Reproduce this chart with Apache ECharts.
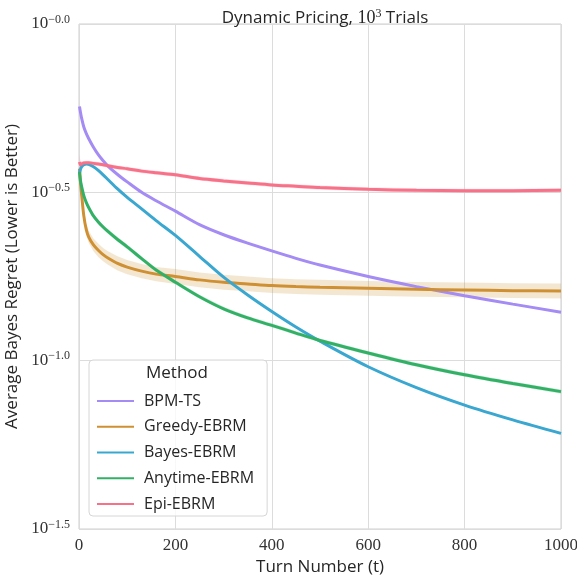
<!DOCTYPE html>
<html><head><meta charset="utf-8">
<script src="https://cdn.jsdelivr.net/npm/echarts@6/dist/echarts.min.js"></script>
<style>html,body{margin:0;padding:0;background:#fff}#c{width:577px;height:579px}</style>
</head><body><div id="c"></div>
<script>
// Turn numbers at which values were read
const turns = [1,3,5,10,15,20,30,40,50,60,80,100,130,160,200,250,300,350,400,450,500,600,700,800,900,1000];
// log10(average Bayes regret)
const bpmTS   = [-0.245,-0.262,-0.277,-0.306,-0.325,-0.340,-0.366,-0.388,-0.406,-0.422,-0.447,-0.469,-0.500,-0.525,-0.556,-0.596,-0.626,-0.651,-0.674,-0.696,-0.716,-0.750,-0.780,-0.807,-0.832,-0.856];
const greedy  = [-0.430,-0.470,-0.500,-0.570,-0.610,-0.632,-0.656,-0.672,-0.685,-0.695,-0.711,-0.722,-0.734,-0.743,-0.750,-0.760,-0.767,-0.772,-0.777,-0.780,-0.782,-0.785,-0.788,-0.790,-0.792,-0.793];
const bayes   = [-0.445,-0.432,-0.425,-0.418,-0.416,-0.417,-0.424,-0.435,-0.448,-0.462,-0.490,-0.515,-0.549,-0.584,-0.628,-0.690,-0.752,-0.805,-0.854,-0.900,-0.942,-1.018,-1.080,-1.132,-1.176,-1.216];
const anytime = [-0.440,-0.465,-0.480,-0.510,-0.530,-0.545,-0.570,-0.588,-0.603,-0.616,-0.640,-0.662,-0.697,-0.731,-0.767,-0.810,-0.846,-0.873,-0.895,-0.918,-0.940,-0.977,-1.012,-1.042,-1.068,-1.092];
const epi     = [-0.410,-0.418,-0.416,-0.413,-0.412,-0.412,-0.414,-0.416,-0.418,-0.421,-0.426,-0.430,-0.437,-0.442,-0.448,-0.459,-0.466,-0.472,-0.478,-0.482,-0.486,-0.491,-0.494,-0.495,-0.495,-0.494];
// half-width of confidence bands (log10 units)
const bpmBand     = [0.004,0.004,0.003,0.003,0.003,0.003,0.003,0.003,0.003,0.003,0.003,0.003,0.003,0.003,0.003,0.003,0.003,0.003,0.003,0.003,0.003,0.003,0.003,0.003,0.003,0.003];
const greedyBand  = [0.010,0.012,0.014,0.016,0.017,0.018,0.019,0.020,0.020,0.020,0.021,0.021,0.021,0.021,0.022,0.022,0.022,0.022,0.022,0.022,0.022,0.022,0.022,0.022,0.022,0.022];
const bayesBand   = [0.004,0.004,0.004,0.003,0.003,0.003,0.003,0.003,0.003,0.003,0.003,0.003,0.003,0.003,0.003,0.003,0.003,0.003,0.003,0.003,0.003,0.003,0.003,0.003,0.003,0.003];
const anytimeBand = [0.008,0.008,0.008,0.007,0.007,0.007,0.007,0.007,0.007,0.007,0.007,0.007,0.006,0.006,0.006,0.006,0.006,0.006,0.006,0.006,0.006,0.006,0.006,0.006,0.006,0.006];
const epiBand     = [0.022,0.012,0.008,0.006,0.006,0.006,0.006,0.006,0.006,0.006,0.006,0.006,0.006,0.006,0.006,0.006,0.006,0.006,0.006,0.006,0.006,0.006,0.006,0.006,0.006,0.006];

const names  = ['BPM-TS','Greedy-EBRM','Bayes-EBRM','Anytime-EBRM','Epi-EBRM'];
const colors = ['#a48cf4','#ce9032','#39a7d0','#32b166','#f77189'];
const means  = [bpmTS, greedy, bayes, anytime, epi];
const bands  = [bpmBand, greedyBand, bayesBand, anytimeBand, epiBand];

const toVal = e => Math.pow(10, e);
const SANS = '"Open Sans", "DejaVu Sans", sans-serif';
const SERIF = '"Liberation Serif", "DejaVu Serif", serif';

function hexA(h, a){
  const r=parseInt(h.slice(1,3),16), g=parseInt(h.slice(3,5),16), b=parseInt(h.slice(5,7),16);
  return `rgba(${r},${g},${b},${a})`;
}

const series = [];
means.forEach((m, k) => {
  const band = bands[k];
  series.push({
    type: 'custom', silent: true, clip: true, z: 1,
    data: [[turns[0], toVal(m[0])]],
    renderItem: (params, api) => {
      const pts = [];
      for (let i = 0; i < turns.length; i++) pts.push(api.coord([turns[i], toVal(m[i] + band[i])]));
      for (let i = turns.length - 1; i >= 0; i--) pts.push(api.coord([turns[i], toVal(m[i] - band[i])]));
      return { type: 'polygon', shape: { points: pts, smooth: 0 }, style: { fill: hexA(colors[k], 0.22), stroke: null } };
    }
  });
});
means.forEach((m, k) => {
  series.push({
    name: names[k], type: 'line', symbol: 'none', smooth: 0.3, z: 3,
    data: turns.map((t, i) => [t, toVal(m[i])]),
    lineStyle: { color: colors[k], width: 3 },
    itemStyle: { color: colors[k] }
  });
});

const chart = echarts.init(document.getElementById('c'), null, { renderer: 'canvas' });
chart.setOption({
  animation: false,
  backgroundColor: '#fff',
  title: {
    text: '{s|Dynamic Pricing, }{m|10}{sup|3}{s| Trials}',
    left: 320, top: 3, textAlign: 'center',
    textStyle: {
      fontWeight: 'normal',
      rich: {
        s: { fontFamily: SANS, fontSize: 17, fontWeight: 'normal', color: '#262626' },
        m: { fontFamily: SERIF, fontSize: 18, fontWeight: 'normal', color: '#262626' },
        sup: { fontFamily: SERIF, fontSize: 12, fontWeight: 'normal', color: '#262626', padding: [0,0,9,0] }
      }
    }
  },
  grid: { left: 79, right: 16, top: 24, bottom: 50, show: true, borderColor: '#cfcfcf', borderWidth: 1, containLabel: false, outerBoundsMode: 'none' },
  xAxis: {
    type: 'value', min: 0, max: 1000, interval: 200,
    name: 'Turn Number (t)', nameLocation: 'middle', nameGap: 28,
    nameTextStyle: { fontFamily: SANS, fontSize: 17, color: '#262626' },
    axisLine: { show: false }, axisTick: { show: false },
    axisLabel: { fontFamily: SERIF, fontSize: 17, color: '#333', margin: 8, formatter: v => String(v) },
    splitLine: { show: true, lineStyle: { color: '#dcdcdc', width: 1 } }
  },
  yAxis: {
    type: 'log', logBase: 10, min: Math.pow(10, -1.5), max: 1, interval: 0.5,
    name: 'Average Bayes Regret (Lower is Better)', nameLocation: 'middle', nameGap: 55,
    nameTextStyle: { fontFamily: SANS, fontSize: 17, color: '#262626' },
    axisLine: { show: false }, axisTick: { show: false },
    axisLabel: {
      margin: 9,
      formatter: v => {
        const e = Math.round(Math.log10(v) * 10) / 10;
        const s = (e === 0 ? '\u22120.0' : '\u2212' + Math.abs(e).toFixed(1));
        return '{b|10}{s|' + s + '}';
      },
      rich: {
        b: { fontFamily: SERIF, fontSize: 17, color: '#333' },
        s: { fontFamily: SERIF, fontSize: 12, color: '#333', padding: [0,0,9,0] }
      }
    },
    splitLine: { show: true, lineStyle: { color: '#dcdcdc', width: 1 } }
  },
  legend: {
    data: names, orient: 'vertical', left: 89, top: 360,
    padding: [33, 13, 4, 7], itemGap: 9.75, itemWidth: 37, itemHeight: 14,
    backgroundColor: 'rgba(255,255,255,0.8)', borderColor: '#d6d6d6', borderWidth: 1, borderRadius: 4,
    lineStyle: { width: 2 },
    itemStyle: { opacity: 0 },
    textStyle: { fontFamily: SANS, fontSize: 16, color: '#262626', padding: [0,0,0,5] }
  },
  graphic: [{
    type: 'text', left: 146, top: 365, z: 100,
    style: { text: 'Method', font: '17px ' + SANS, fill: '#262626' }
  }],
  series: series
});
</script></body></html>
